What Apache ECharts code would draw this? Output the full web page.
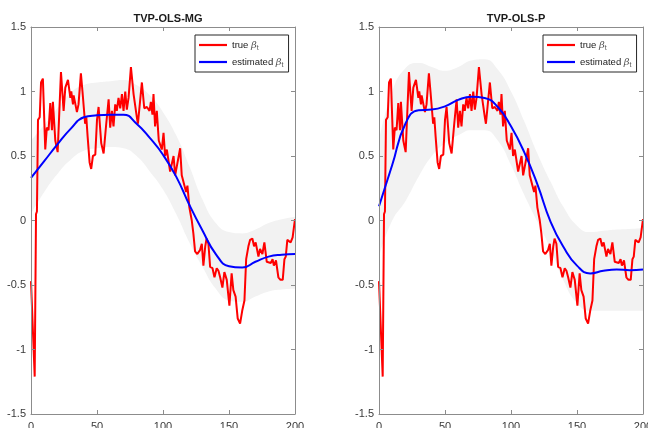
<!DOCTYPE html>
<html><head><meta charset="utf-8">
<script src="https://cdn.jsdelivr.net/npm/echarts@6/dist/echarts.min.js"></script>
<style>html,body{margin:0;padding:0;background:#fff}#c{width:648px;height:428px}</style>
</head><body><div id="c"></div>
<script>
// true beta (same in both panels)
const tTrue = [0,2.8,3.8,4.5,5.3,6.6,7.6,9,10.8,12,13.3,14.6,15.9,16.6,18.4,20.2,22.7,24.7,26,28,29.8,30.5,31.8,32.3,34.8,36,37.8,39,41,41.9,42.9,44.4,45.6,46.9,48.7,50,51.2,53.2,55,57,58.8,60,61.3,62.5,63.8,65,66.3,67.6,68.9,70.1,71.4,72.6,73.9,75.7,77.7,80.2,81,84,85.8,87.8,89.8,90.8,92,92.8,94,95.3,96.8,99.1,100.4,101.6,102.9,105.4,108,109.2,113,114.2,115.5,117.5,118.5,120,121.8,123,124.3,126,128,129.4,130.6,132,133,134.4,135.7,137.5,139,140.7,142,143.3,145,146.5,148.3,150.3,152,153.3,155,156.6,158.4,160,161.7,163,164.7,166,167.7,169,170.2,172.3,173.5,175.3,176.8,178.6,180,181.6,183,184,185.6,187.4,189,190.7,192,193,194.2,195.5,196.7,198.2,200];
const vTrue = [-0.47,-1.21,0.05,0.07,0.78,0.8,1.07,1.1,0.55,0.72,0.7,0.91,0.7,0.92,0.62,0.53,1.15,0.85,1.03,1.09,0.95,1.0,0.9,0.97,0.84,0.9,1.14,1.0,0.75,0.8,0.65,0.45,0.40,0.5,0.51,0.78,0.88,0.6,0.52,0.75,0.94,0.72,0.85,0.73,0.9,0.85,0.95,0.87,0.98,0.85,1.0,0.86,0.95,1.19,0.98,0.8,0.75,1.07,0.87,0.88,0.85,0.92,0.82,0.98,0.73,0.85,0.62,0.55,0.68,0.5,0.55,0.38,0.5,0.35,0.56,0.35,0.35,0.22,0.27,0.1,0.0,-0.1,-0.24,-0.26,-0.23,-0.18,-0.35,-0.2,-0.14,-0.18,-0.36,-0.37,-0.44,-0.37,-0.39,-0.44,-0.52,-0.4,-0.46,-0.66,-0.41,-0.54,-0.59,-0.76,-0.8,-0.7,-0.62,-0.3,-0.2,-0.15,-0.14,-0.2,-0.17,-0.28,-0.22,-0.26,-0.17,-0.32,-0.31,-0.33,-0.3,-0.35,-0.31,-0.44,-0.46,-0.46,-0.3,-0.28,-0.15,-0.14,-0.17,-0.13,0.01];

const tEst = [0,10,20,30,40,50,60,70,80,90,100,110,120,130,140,150,160,170,180,190,200];
// TVP-OLS-MG
const estMG = [0.33,0.46,0.59,0.71,0.80,0.815,0.82,0.82,0.75,0.64,0.51,0.34,0.12,-0.08,-0.26,-0.355,-0.365,-0.32,-0.28,-0.265,-0.26];
const upMG  = [0.62,0.74,0.87,0.99,1.05,1.07,1.08,1.09,1.05,0.97,0.84,0.66,0.42,0.16,-0.02,-0.09,-0.1,-0.07,-0.02,0.01,0.03];
const loMG  = [0.05,0.22,0.36,0.47,0.54,0.56,0.57,0.56,0.5,0.38,0.24,0.05,-0.17,-0.36,-0.53,-0.62,-0.63,-0.59,-0.55,-0.535,-0.53];
// TVP-OLS-P
const estP = [0.11,0.43,0.75,0.855,0.86,0.885,0.935,0.96,0.95,0.88,0.73,0.53,0.28,-0.01,-0.21,-0.35,-0.41,-0.39,-0.38,-0.385,-0.38];
const upP  = [0.62,1.0,1.18,1.22,1.19,1.16,1.19,1.24,1.25,1.17,1.0,0.77,0.52,0.3,0.1,-0.04,-0.09,-0.08,-0.07,-0.065,-0.06];
const loP  = [-0.28,0.0,0.15,0.34,0.5,0.6,0.66,0.7,0.7,0.62,0.43,0.2,-0.01,-0.22,-0.47,-0.64,-0.7,-0.7,-0.7,-0.7,-0.7];

const titles = ['TVP-OLS-MG','TVP-OLS-P'];
const xTicks = [0,50,100,150,200];
const yTicks = [-1.5,-1,-0.5,0,0.5,1,1.5];

const panels = [
  {est: estMG, up: upMG, lo: loMG, left: 31},
  {est: estP, up: upP, lo: loP, left: 379}
];
const W = 264, TOP = 27, H = 387;
const axisCol = '#8c8c8c', txtCol = '#3a3a3a';
const FONT = 'Liberation Sans, Arial, sans-serif';

const pairs = (xs, ys) => xs.map((x, i) => [x, ys[i]]);

const option = {
  animation: false,
  backgroundColor: '#fff',
  title: [], grid: [], xAxis: [], yAxis: [], legend: [], series: []
};

panels.forEach((p, k) => {
  option.title.push({
    text: titles[k], left: p.left + W / 2, top: 8, textAlign: 'center',
    textStyle: {fontFamily: FONT, fontSize: 11, fontWeight: 'bold', color: '#1a1a1a'}
  });
  option.grid.push({left: p.left, top: TOP, width: W, height: H,
    containLabel: false, outerBoundsMode: 'none'});
  const xBase = {
    type: 'value', min: xTicks[0], max: xTicks[xTicks.length - 1], interval: 50,
    gridIndex: k, splitLine: {show: false}, z: 10,
    axisLine: {show: true, onZero: false, lineStyle: {color: axisCol, width: 1}},
    axisTick: {show: true, inside: true, length: 4, lineStyle: {color: axisCol}}
  };
  option.xAxis.push(Object.assign({}, xBase, {
    position: 'bottom',
    axisLabel: {show: true, margin: 7, color: txtCol, fontFamily: FONT, fontSize: 11}
  }));
  option.xAxis.push(Object.assign({}, xBase, {position: 'top', axisLabel: {show: false}}));
  const yBase = {
    type: 'value', min: yTicks[0], max: yTicks[yTicks.length - 1], interval: 0.5,
    gridIndex: k, splitLine: {show: false}, z: 10,
    axisLine: {show: true, onZero: false, lineStyle: {color: axisCol, width: 1}},
    axisTick: {show: true, inside: true, length: 4, lineStyle: {color: axisCol}}
  };
  option.yAxis.push(Object.assign({}, yBase, {
    position: 'left',
    axisLabel: {show: true, margin: 5, color: txtCol, fontFamily: FONT, fontSize: 11}
  }));
  option.yAxis.push(Object.assign({}, yBase, {position: 'right', axisLabel: {show: false}}));

  const xi = 2 * k, yi = 2 * k;
  // band: gray area under upper bound, then white area under lower bound
  option.series.push({
    type: 'line', name: 'upper' + k, xAxisIndex: xi, yAxisIndex: yi,
    data: pairs(tEst, p.up), smooth: 0.5, symbol: 'none',
    lineStyle: {width: 0, opacity: 0},
    areaStyle: {color: '#f2f2f2', opacity: 1, origin: 'start'}, silent: true, z: 1
  });
  option.series.push({
    type: 'line', name: 'lower' + k, xAxisIndex: xi, yAxisIndex: yi,
    data: pairs(tEst, p.lo), smooth: 0.5, symbol: 'none',
    lineStyle: {width: 0, opacity: 0},
    areaStyle: {color: '#ffffff', opacity: 1, origin: 'start'}, silent: true, z: 1
  });
  option.series.push({
    type: 'line', name: 'true', xAxisIndex: xi, yAxisIndex: yi,
    data: pairs(tTrue, vTrue), symbol: 'none',
    lineStyle: {color: '#ff0000', width: 2}, itemStyle: {color: '#ff0000'}, z: 3
  });
  option.series.push({
    type: 'line', name: 'estimated', xAxisIndex: xi, yAxisIndex: yi,
    data: pairs(tEst, p.est), smooth: 0.5, symbol: 'none',
    lineStyle: {color: '#0000ff', width: 2}, itemStyle: {color: '#0000ff'}, z: 4
  });
  option.legend.push({
    data: ['true', 'estimated'], orient: 'vertical',
    left: p.left + 164, top: 35, icon: 'rect',
    backgroundColor: '#fff', borderColor: '#262626', borderWidth: 1, borderRadius: 0,
    padding: [3, 5, 3, 4], itemGap: 3, itemWidth: 28, itemHeight: 2.2,
    selectedMode: false,
    formatter: n => n + ' {b|β}{s|t}',
    textStyle: {
      fontFamily: FONT, fontSize: 9.5, color: '#1a1a1a', lineHeight: 14,
      rich: {
        b: {fontFamily: 'DejaVu Serif, serif', fontStyle: 'italic', fontSize: 10, color: '#555', lineHeight: 14},
        s: {fontFamily: FONT, fontSize: 7, color: '#555', lineHeight: 8, verticalAlign: 'bottom', padding: [6, 0, 0, 0]}
      }
    }
  });
});

const chart = echarts.init(document.getElementById('c'), null, {renderer: 'canvas'});
chart.setOption(option);
</script>
</body></html>
